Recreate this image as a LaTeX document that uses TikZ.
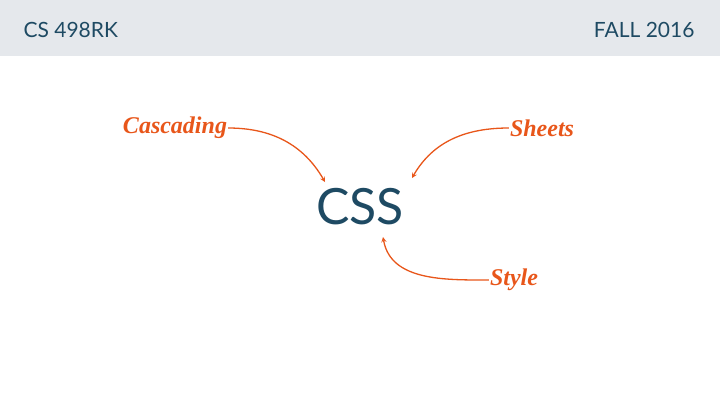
\documentclass[tikz,border=0pt]{standalone}
\usepackage{fontspec}
\setmainfont{Lato}
\newfontfamily\handfont{Liberation Serif}
\usetikzlibrary{positioning}
\definecolor{headgrey}{HTML}{E5E8EC}
\definecolor{darkteal}{HTML}{1E4A63}
\definecolor{accent}{HTML}{E8561A}
\begin{document}
\begin{tikzpicture}[x=1pt,y=-1pt,
    word/.style={text=accent, font=\handfont\bfseries\itshape\fontsize{24}{24}\selectfont, inner sep=1pt},
    head/.style={text=darkteal, font=\fontsize{21}{21}\selectfont},
    curve/.style={->, draw=accent, line width=1.3pt, >=stealth}]
  \useasboundingbox (0,0) rectangle (720,405);
  \fill[headgrey] (0,0) rectangle (720,56);
  \node[head, anchor=west] (course) at (20,30) {CS 498RK};
  \node[head, anchor=east] (term) at (698,30) {FALL 2016};

  \node[text=darkteal, font=\fontsize{50}{50}\selectfont] (css) at (360,207) {CSS};
  \node[word] (casc) at (175,128) {Cascading};
  \node[word] (sheets) at (542,128) {Sheets};
  \node[word] (style) at (514,280) {Style};

  \draw[curve] (casc.east) to[out=0, in=120] (325,182);
  \draw[curve] (sheets.west) to[out=180, in=60] (412,178);
  \draw[curve] (style.west) to[out=180, in=-80] (383,237);
\end{tikzpicture}
\end{document}
